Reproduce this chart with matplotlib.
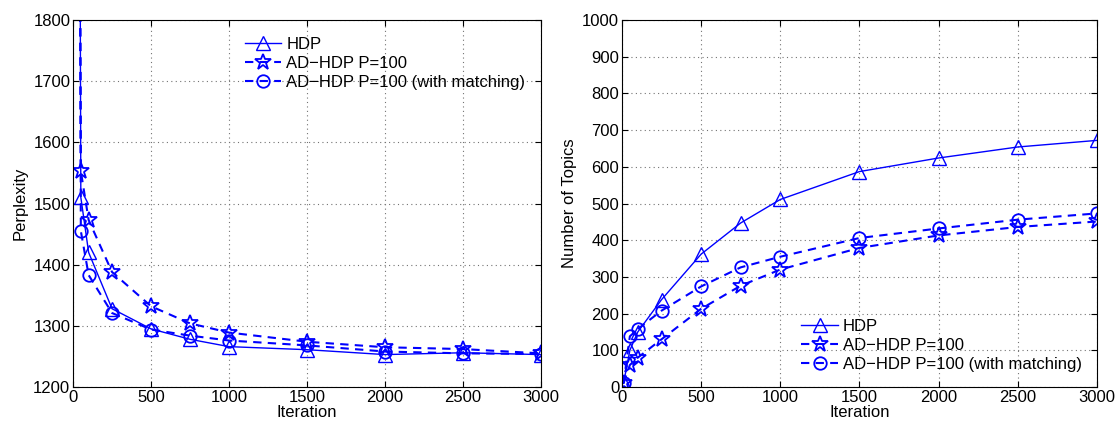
import matplotlib
matplotlib.use("Agg")
import matplotlib.pyplot as plt

plt.rcParams['font.family'] = ['Liberation Sans', 'DejaVu Sans']
plt.rcParams['font.size'] = 12

iters = [10, 50, 100, 250, 500, 750, 1000, 1500, 2000, 2500, 3000]

# perplexity (first point is far above the axis limit)
perp_hdp = [5000, 1510, 1420, 1328, 1295, 1278, 1266, 1261, 1253, 1256, 1253]
perp_ad = [5000, 1553, 1473, 1388, 1332, 1304, 1289, 1274, 1265, 1262, 1255]
perp_match = [5000, 1455, 1383, 1321, 1294, 1284, 1276, 1268, 1258, 1255, 1254]

# number of topics
topics_hdp = [10, 100, 150, 238, 362, 447, 511, 587, 624, 654, 672]
topics_ad = [10, 60, 80, 130, 213, 276, 320, 379, 413, 436, 451]
topics_match = [10, 138, 158, 208, 274, 326, 355, 406, 432, 456, 473]

labels = ['HDP', 'AD\u2212HDP P=100', 'AD\u2212HDP P=100 (with matching)']
blue = (0, 0, 1)

fig = plt.figure(figsize=(11.15, 4.23), dpi=100)
ax1 = fig.add_axes([0.0655, 0.0851, 0.4197, 0.8676])
ax2 = fig.add_axes([0.5578, 0.0851, 0.426, 0.8676])


def draw(ax, a, b, c):
    ax.plot(iters, a, '-', color=blue, lw=1.0, marker='^', ms=10,
            mfc='none', mec=blue, mew=1.0, label=labels[0])
    ax.plot(iters, b, '--', color=blue, lw=1.5, marker='*', ms=12,
            mfc='none', mec=blue, mew=1.3, label=labels[1], dashes=(4, 3))
    ax.plot(iters, c, '--', color=blue, lw=1.5, marker='o', ms=9,
            mfc='none', mec=blue, mew=1.3, label=labels[2], dashes=(4, 3))
    ax.set_xlim(0, 3000)
    ax.set_xticks(range(0, 3001, 500))
    ax.grid(True, linestyle=(0, (1, 3)), color='0.45', lw=0.8)
    ax.tick_params(direction='in', top=True, right=True, length=4,
                   labelsize=12, pad=2)
    for s in ax.spines.values():
        s.set_linewidth(0.8)
    ax.set_xlabel('Iteration', labelpad=0)


draw(ax1, perp_hdp, perp_ad, perp_match)
ax1.set_ylim(1200, 1800)
ax1.set_yticks(range(1200, 1801, 100))
ax1.set_ylabel('Perplexity', labelpad=4)
ax1.legend(loc='upper left', bbox_to_anchor=(0.335, 0.995), frameon=False,
           handlelength=2.2, handletextpad=0.3, labelspacing=0.25, fontsize=12)

draw(ax2, topics_hdp, topics_ad, topics_match)
ax2.set_ylim(0, 1000)
ax2.set_yticks(range(0, 1001, 100))
ax2.set_ylabel('Number of Topics', labelpad=4)
ax2.legend(loc='lower right', bbox_to_anchor=(1.0, 0.0), frameon=False,
           handlelength=2.2, handletextpad=0.3, labelspacing=0.25, fontsize=12)

fig.savefig('out.png', dpi=100)
